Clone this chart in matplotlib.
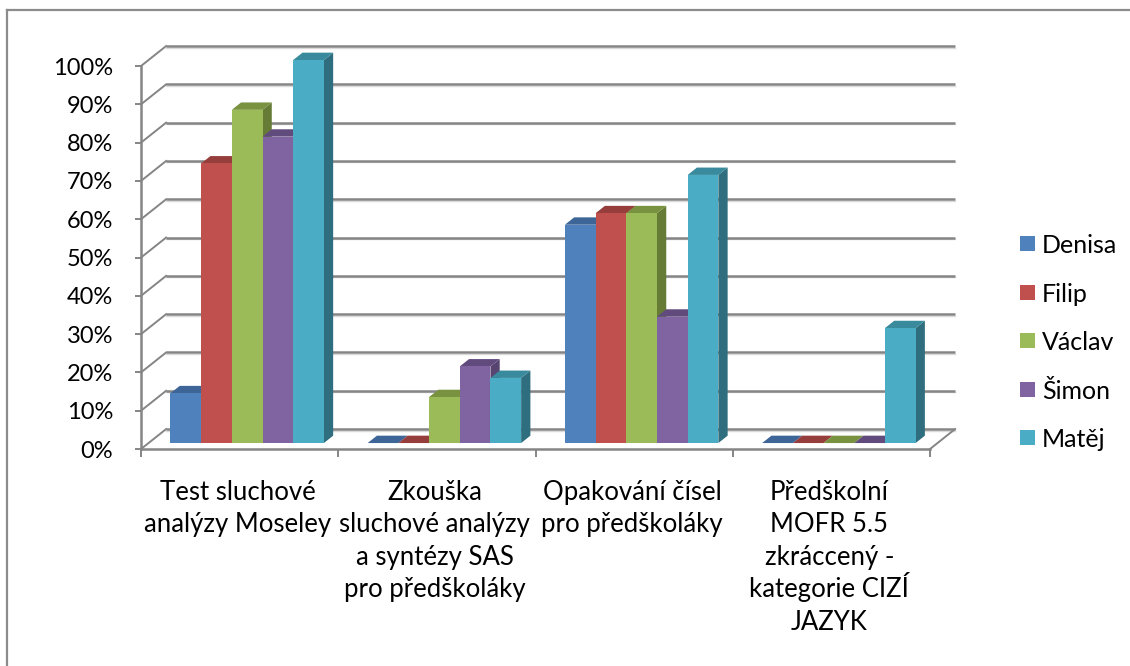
import matplotlib
matplotlib.use("Agg")
import matplotlib.pyplot as plt
from matplotlib.patches import Polygon, Rectangle

plt.rcParams["font.family"] = ["Lato", "DejaVu Sans"]

# Results per test, one list per child (share of points scored)
categories = [
    "Test sluchové\nanalýzy Moseley",
    "Zkouška\nsluchové analýzy\na syntézy SAS\npro předškoláky",
    "Opakování čísel\npro předškoláky",
    "Předškolní\nMOFR 5.5\nzkráccený -\nkategorie CIZÍ\nJAZYK",
]
names = ["Denisa", "Filip", "Václav", "Šimon", "Matěj"]
denisa = [0.13, 0.00, 0.57, 0.00]
filip = [0.73, 0.00, 0.60, 0.00]
vaclav = [0.87, 0.12, 0.60, 0.00]
simon = [0.80, 0.20, 0.33, 0.00]
matej = [1.00, 0.17, 0.70, 0.30]
series = [denisa, filip, vaclav, simon, matej]
y_ticks = [i / 10 for i in range(11)]
y_tick_labels = [f"{i * 10}%" for i in range(11)]

# front, top and side shades for each series
front_colors = ["#4F81BD", "#C0504D", "#9BBB59", "#8064A2", "#4BACC6"]
top_colors = ["#3D6597", "#953E3C", "#78923F", "#614B7D", "#398A9C"]
side_colors = ["#385C8A", "#8A3836", "#667C36", "#574471", "#2F6E7E"]
grid_color = "#858585"

# depth of the plot box and of the bars (in data units)
depth_x, depth_y = 0.127, 0.052
bar_front, bar_back = 0.30, 0.67
bar_w = 0.1556

fig = plt.figure(figsize=(11.3, 6.66), dpi=100)
ax = fig.add_axes([0.1248, 0.3258, 0.6982, 0.5751])
ax.set_xlim(0, len(categories))
ax.set_ylim(0, 1)
for s in ax.spines.values():
    s.set_visible(False)

# back wall gridlines and the slanted lines on the left wall
for v in y_ticks:
    ax.plot([depth_x, len(categories) + depth_x], [v + depth_y, v + depth_y],
            color=grid_color, lw=1.8, clip_on=False, zorder=1, solid_capstyle="butt")
    ax.plot([depth_x, len(categories) + depth_x], [v + depth_y - 0.0037, v + depth_y - 0.0037],
            color="#DADADA", lw=1.0, clip_on=False, zorder=0.9)
    ax.plot([0, depth_x], [v, v + depth_y], color=grid_color, lw=1.4, clip_on=False, zorder=1)

# floor: front edge and right edge
ax.plot([0, len(categories)], [0, 0], color=grid_color, lw=1.8, clip_on=False, zorder=1)
ax.plot([len(categories), len(categories) + depth_x], [0, depth_y],
        color=grid_color, lw=1.4, clip_on=False, zorder=1)
# value axis
ax.plot([0, 0], [0, 1], color=grid_color, lw=1.8, clip_on=False, zorder=1)

# 3d columns, drawn left to right so nearer faces cover farther ones
fx, fy = bar_front * depth_x, bar_front * depth_y
bx, by = bar_back * depth_x, bar_back * depth_y
ddx, ddy = bx - fx, by - fy
cluster = bar_w * len(series)
for c in range(len(categories)):
    start = c + (1 - cluster) / 2
    for i, vals in enumerate(series):
        h = vals[c]
        x0 = start + i * bar_w + fx
        x1 = x0 + bar_w
        y0 = fy
        y1 = fy + h
        front = Polygon([(x0, y0), (x1, y0), (x1, y1), (x0, y1)],
                        facecolor=front_colors[i], edgecolor="none", zorder=2)
        top = Polygon([(x0, y1), (x1, y1), (x1 + ddx, y1 + ddy), (x0 + ddx, y1 + ddy)],
                      facecolor=top_colors[i], edgecolor="none", zorder=2)
        side = Polygon([(x1, y0), (x1 + ddx, y0 + ddy), (x1 + ddx, y1 + ddy), (x1, y1)],
                       facecolor=side_colors[i], edgecolor="none", zorder=2)
        for p in (side, top, front):
            p.set_clip_on(False)
            ax.add_patch(p)

# ticks
ax.set_yticks(y_ticks)
ax.set_yticklabels(y_tick_labels, fontsize=17, color="#000000")
ax.tick_params(axis="y", direction="out", length=4.5, width=1.4, color=grid_color, pad=15.5)
ax.set_xticks(range(len(categories) + 1))
ax.set_xticklabels([])
ax.tick_params(axis="x", direction="out", length=6, width=1.4, color=grid_color)

# category labels under the floor, one text per line for even spacing
for c, label in enumerate(categories):
    for j, line in enumerate(label.split("\n")):
        ax.annotate(line, xy=(c + 0.5, 0), xycoords=("data", "axes fraction"),
                    xytext=(-1.5, -36.5 - j * 23.4), textcoords="offset points",
                    ha="center", va="baseline", fontsize=18.5)

# legend: swatch and name per series
for i, name in enumerate(names):
    yc = 1 - (243.5 + i * 48.6) / 666
    fig.patches.append(Rectangle((1020 / 1130, yc - 7.5 / 666), 15 / 1130, 15 / 666,
                                 transform=fig.transFigure, facecolor=front_colors[i],
                                 edgecolor="none"))
    fig.text(1042 / 1130, yc, name, fontsize=18, va="center_baseline", ha="left")

# outer frame
fig.add_artist(plt.Line2D([0.0065, 0.0065], [0, 0.985], transform=fig.transFigure,
                          color="#8C8C8C", lw=1.6))
fig.add_artist(plt.Line2D([0.0065, 1.0], [0.985, 0.985], transform=fig.transFigure,
                          color="#8C8C8C", lw=1.6))

fig.savefig("out.png", dpi=100, facecolor="white")
